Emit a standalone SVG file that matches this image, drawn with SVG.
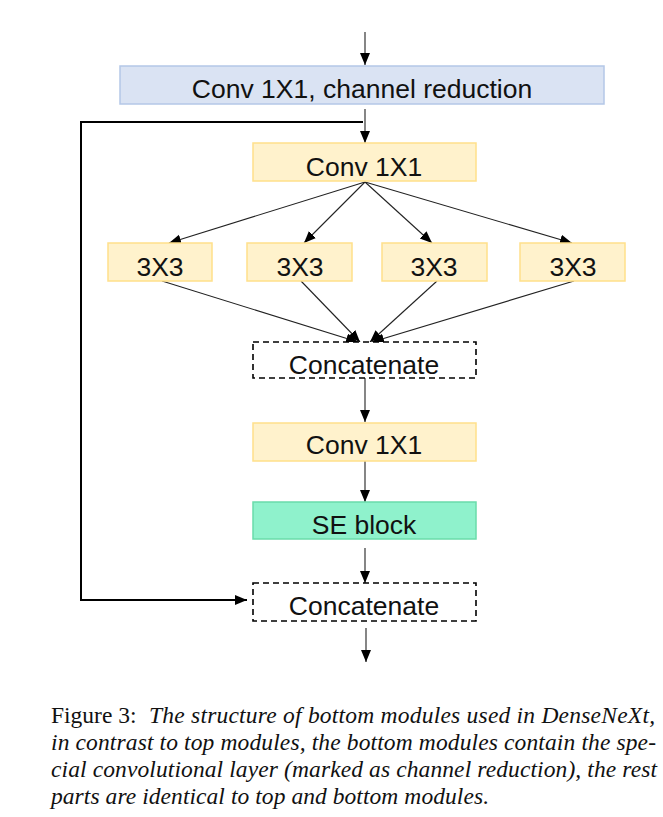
<svg xmlns="http://www.w3.org/2000/svg" width="663" height="817" viewBox="0 0 663 817">
<style>
.lbl{font-family:"Liberation Sans",Arial,sans-serif;font-size:26.5px;fill:#111;text-anchor:middle}
.blue{fill:#dae3f3;stroke:#b4c7e7;stroke-width:1.5}
.yel{fill:#fff2cc;stroke:#ffe08a;stroke-width:1.5}
.se{fill:#8ff2cc;stroke:#6adcaa;stroke-width:1.5}
.dash{fill:#fff;stroke:#000;stroke-width:1.6;stroke-dasharray:6 4}
.c{fill:none;stroke:#222;stroke-width:1.1;marker-end:url(#ah)}
.cap{font-family:"Liberation Serif","Times New Roman",serif;font-size:23.5px;fill:#111}
.it{font-style:italic}
</style>
<defs>
<marker id="ah" markerUnits="userSpaceOnUse" markerWidth="13" markerHeight="11" refX="12" refY="5" orient="auto">
<path d="M0,0 L12,5 L0,10 z" fill="#000"/>
</marker>
</defs>
<g id="connectors">
<line class="c" x1="365" y1="32" x2="365" y2="65"/>
<line class="c" x1="365" y1="109" x2="365" y2="143"/>
<path d="M363,122 H81 V600 H247" fill="none" stroke="#000" stroke-width="2" marker-end="url(#ah)"/>
<line class="c" x1="365" y1="182" x2="169" y2="243"/>
<line class="c" x1="365" y1="182" x2="304" y2="243"/>
<line class="c" x1="365" y1="182" x2="432" y2="243"/>
<line class="c" x1="365" y1="182" x2="572" y2="243"/>
<line class="c" x1="162" y1="281" x2="358" y2="342"/>
<line class="c" x1="301" y1="281" x2="360" y2="342"/>
<line class="c" x1="437" y1="281" x2="370" y2="342"/>
<line class="c" x1="574" y1="281" x2="372" y2="342"/>
<line class="c" x1="365" y1="378" x2="365" y2="422"/>
<line class="c" x1="365" y1="461" x2="365" y2="502"/>
<line class="c" x1="365" y1="548" x2="365" y2="583"/>
<line class="c" x1="366" y1="628" x2="366" y2="662"/>
</g>
<g id="reduction"><rect class="blue" x="120" y="66" width="484" height="38"/><text class="lbl" x="362" y="98">Conv 1X1, channel reduction</text></g>
<g id="conv1"><rect class="yel" x="253" y="143" width="223" height="38"/><text class="lbl" x="364" y="176">Conv 1X1</text></g>
<g id="b1"><rect class="yel" x="108" y="243" width="104" height="38"/><text class="lbl" x="160" y="276">3X3</text></g>
<g id="b2"><rect class="yel" x="247" y="243" width="105" height="38"/><text class="lbl" x="300" y="276">3X3</text></g>
<g id="b3"><rect class="yel" x="382" y="243" width="105" height="38"/><text class="lbl" x="434" y="276">3X3</text></g>
<g id="b4"><rect class="yel" x="520" y="243" width="105" height="38"/><text class="lbl" x="573" y="276">3X3</text></g>
<g id="concat1"><rect class="dash" x="253" y="342" width="223" height="36"/><text class="lbl" x="364" y="374">Concatenate</text></g>
<g id="conv2"><rect class="yel" x="253" y="423" width="223" height="38"/><text class="lbl" x="364" y="454">Conv 1X1</text></g>
<g id="se"><rect class="se" x="253" y="502" width="223" height="37"/><text class="lbl" x="364" y="534">SE block</text></g>
<g id="concat2"><rect class="dash" x="253" y="583" width="223" height="38"/><text class="lbl" x="364" y="615">Concatenate</text></g>
<g id="caption">
<text class="cap" x="51" y="723">Figure 3:</text>
<text class="cap it" x="149" y="723" textLength="506" lengthAdjust="spacing">The structure of bottom modules used in DenseNeXt,</text>
<text class="cap it" x="51" y="750" textLength="605" lengthAdjust="spacing">in contrast to top modules, the bottom modules contain the spe-</text>
<text class="cap it" x="51" y="777" textLength="606" lengthAdjust="spacing">cial convolutional layer (marked as channel reduction), the rest</text>
<text class="cap it" x="51" y="804" textLength="438" lengthAdjust="spacing">parts are identical to top and bottom modules.</text>
</g>
</svg>
